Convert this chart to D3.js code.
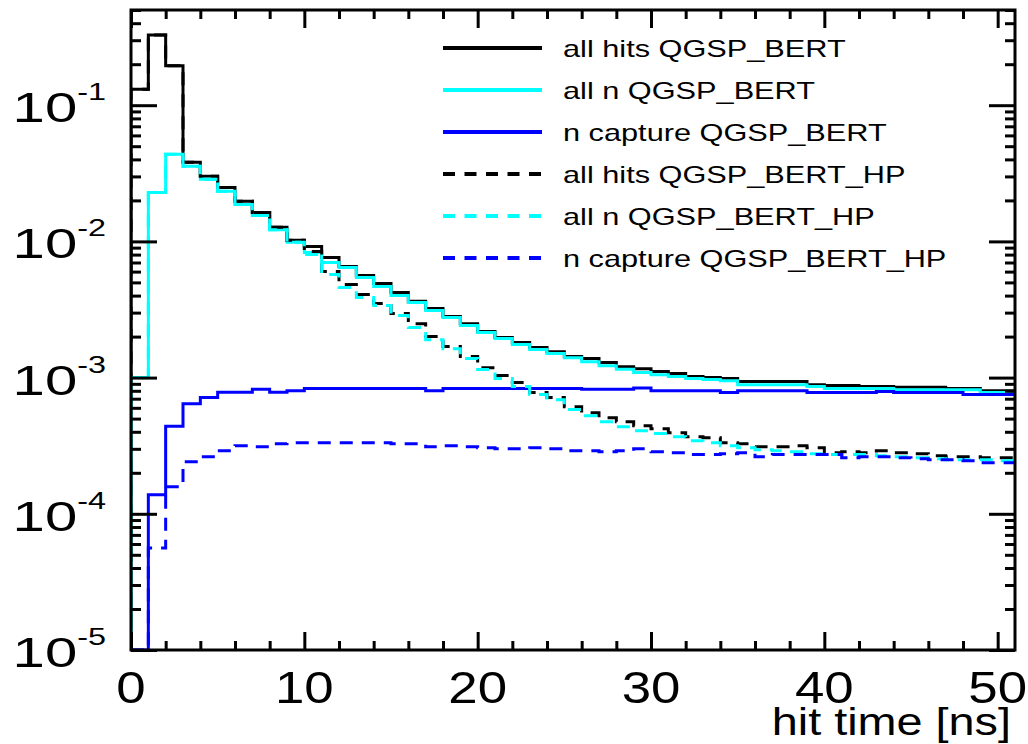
<!DOCTYPE html>
<html><head><meta charset="utf-8">
<script src="https://cdn.jsdelivr.net/npm/d3@7"></script>
<style>
html,body{margin:0;padding:0;background:#fff;}
svg{display:block;font-family:"Liberation Sans",Arial,Helvetica,sans-serif;}
</style></head><body>
<svg id="chart" width="1028" height="744"></svg>
<script>
// ---- data (1 ns bins from 0 to 51 ns) ----
const xDomain = [0, 51];
const yDomain = [1e-5, 0.5];
const xTickLabels = [0, 10, 20, 30, 40, 50];
const yTickExponents = [-1, -2, -3, -4, -5];
const xTitle = "hit time [ns]";
const seriesNames = ["all hits QGSP_BERT", "all n QGSP_BERT", "n capture QGSP_BERT",
  "all hits QGSP_BERT_HP", "all n QGSP_BERT_HP", "n capture QGSP_BERT_HP"];
const seriesColors = ["#000000", "#00ffff", "#0000ff", "#000000", "#00ffff", "#0000ff"];
const seriesDashed = [false, false, false, true, true, true];

const allHits_BERT = [0.131, 0.327, 0.195, 0.0381, 0.0301, 0.0249, 0.0197, 0.0163, 0.0127, 0.0102,
  9.19e-3, 7.63e-3, 6.55e-3, 5.62e-3, 4.91e-3, 4.22e-3, 3.64e-3, 3.21e-3, 2.81e-3, 2.49e-3,
  2.18e-3, 1.97e-3, 1.81e-3, 1.66e-3, 1.55e-3, 1.43e-3, 1.38e-3, 1.29e-3, 1.20e-3, 1.16e-3,
  1.11e-3, 1.07e-3, 1.02e-3, 1.00e-3, 9.84e-4, 9.35e-4, 9.35e-4, 9.35e-4, 9.35e-4, 8.88e-4,
  8.74e-4, 8.74e-4, 8.59e-4, 8.59e-4, 8.5e-4, 8.5e-4, 8.5e-4, 8.3e-4, 8.3e-4, 8.0e-4, 8.0e-4];
const allN_BERT = [1.0e-3, 0.0229, 0.0436, 0.0356, 0.0286, 0.0233, 0.0187, 0.0155, 0.0122, 9.84e-3,
  8.30e-3, 7.01e-3, 6.44e-3, 5.43e-3, 4.67e-3, 4.01e-3, 3.56e-3, 3.11e-3, 2.76e-3, 2.41e-3,
  2.14e-3, 1.94e-3, 1.75e-3, 1.61e-3, 1.50e-3, 1.40e-3, 1.31e-3, 1.22e-3, 1.15e-3, 1.09e-3,
  1.05e-3, 1.02e-3, 9.84e-4, 9.67e-4, 9.5e-4, 8.88e-4, 8.88e-4, 8.88e-4, 8.88e-4, 8.59e-4,
  8.3e-4, 8.3e-4, 8.3e-4, 8.3e-4, 8.16e-4, 8.16e-4, 8.16e-4, 8.16e-4, 8.16e-4, 7.76e-4, 7.76e-4];
const nCapture_BERT = [0, 1.38e-4, 4.39e-4, 6.44e-4, 7.13e-4, 7.8e-4, 7.8e-4, 8.2e-4, 7.8e-4, 8.0e-4,
  8.3e-4, 8.3e-4, 8.3e-4, 8.3e-4, 8.3e-4, 8.3e-4, 8.3e-4, 8.0e-4, 8.3e-4, 8.3e-4,
  8.3e-4, 8.3e-4, 8.3e-4, 8.3e-4, 8.3e-4, 8.3e-4, 8.2e-4, 8.2e-4, 8.2e-4, 8.4e-4,
  8.0e-4, 8.0e-4, 8.0e-4, 8.0e-4, 7.76e-4, 8.0e-4, 8.0e-4, 8.0e-4, 8.0e-4, 7.76e-4,
  7.76e-4, 7.76e-4, 7.76e-4, 7.9e-4, 7.76e-4, 7.76e-4, 7.76e-4, 7.76e-4, 7.5e-4, 7.5e-4, 7.5e-4];
const allHits_HP = [0.131, 0.327, 0.195, 0.0381, 0.0301, 0.0249, 0.0197, 0.0163, 0.0127, 0.0102,
  8.44e-3, 6.02e-3, 4.83e-3, 4.08e-3, 3.50e-3, 2.96e-3, 2.49e-3, 2.00e-3, 1.69e-3, 1.43e-3,
  1.18e-3, 1.034e-3, 9.19e-4, 7.76e-4, 7.13e-4, 6.12e-4, 5.53e-4, 5.08e-4, 4.75e-4, 4.44e-4,
  4.22e-4, 3.94e-4, 3.68e-4, 3.62e-4, 3.33e-4, 3.27e-4, 3.11e-4, 3.11e-4, 3.16e-4, 3.06e-4,
  2.81e-4, 2.86e-4, 2.81e-4, 2.90e-4, 2.81e-4, 2.76e-4, 2.67e-4, 2.62e-4, 2.62e-4, 2.58e-4, 2.58e-4];
const allN_HP = [1.0e-3, 0.0229, 0.0436, 0.0356, 0.0286, 0.0233, 0.0187, 0.0155, 0.0122, 9.84e-3,
  8.02e-3, 5.72e-3, 4.59e-3, 3.88e-3, 3.38e-3, 2.86e-3, 2.33e-3, 1.90e-3, 1.63e-3, 1.38e-3,
  1.145e-3, 9.83e-4, 8.59e-4, 7.50e-4, 6.89e-4, 5.82e-4, 5.25e-4, 4.75e-4, 4.36e-4, 4.08e-4,
  3.88e-4, 3.68e-4, 3.44e-4, 3.33e-4, 3.16e-4, 3.06e-4, 2.95e-4, 2.90e-4, 2.86e-4, 2.76e-4,
  2.72e-4, 2.72e-4, 2.72e-4, 2.67e-4, 2.62e-4, 2.58e-4, 2.54e-4, 2.49e-4, 2.49e-4, 2.49e-4, 2.45e-4];
const nCapture_HP = [0, 5.6e-5, 1.58e-4, 2.41e-4, 2.62e-4, 2.90e-4, 3.16e-4, 3.11e-4, 3.27e-4, 3.33e-4,
  3.33e-4, 3.33e-4, 3.33e-4, 3.33e-4, 3.33e-4, 3.27e-4, 3.27e-4, 3.11e-4, 3.16e-4, 3.11e-4,
  3.06e-4, 3.00e-4, 3.00e-4, 3.06e-4, 3.00e-4, 2.90e-4, 2.90e-4, 2.86e-4, 2.90e-4, 3.00e-4,
  2.86e-4, 2.81e-4, 2.72e-4, 2.72e-4, 2.76e-4, 2.81e-4, 2.62e-4, 2.72e-4, 2.72e-4, 2.72e-4,
  2.72e-4, 2.58e-4, 2.62e-4, 2.62e-4, 2.58e-4, 2.54e-4, 2.49e-4, 2.49e-4, 2.45e-4, 2.37e-4, 2.37e-4];

const seriesValues = [allHits_BERT, allN_BERT, nCapture_BERT, allHits_HP, allN_HP, nCapture_HP];

// ---- layout ----
const L = 131, R = 1015, T = 10, B = 650;
const svg = d3.select("#chart");
const x = d3.scaleLinear().domain(xDomain).range([L, R]);
const y = d3.scaleLog().domain(yDomain).range([B, T]);

svg.append("defs").append("clipPath").attr("id", "clip")
  .append("rect").attr("x", L).attr("y", T).attr("width", R - L).attr("height", B - T);

// ---- histograms ----
const line = d3.line().x(d => x(d[0])).y(d => y(Math.max(yDomain[0], Math.min(yDomain[1], d[1]))))
  .curve(d3.curveStepAfter);
const gH = svg.append("g").attr("clip-path", "url(#clip)");
seriesValues.forEach((vals, s) => {
  const pts = [[0, yDomain[0]]];
  vals.forEach((v, i) => pts.push([i, v]));
  pts.push([vals.length, vals[vals.length - 1]]);
  gH.append("path").attr("d", line(pts)).attr("fill", "none")
    .attr("stroke", seriesColors[s]).attr("stroke-width", 3)
    .attr("stroke-dasharray", seriesDashed[s] ? "13,9" : null);
});

// ---- axes (ticks inward, ROOT style) ----
const xMajor = xTickLabels;
const xMinor = d3.range(0, 51, 2).filter(v => v % 10 !== 0);
const yMajor = yTickExponents.map(e => Math.pow(10, e));
const yMinor = [];
for (let e = -5; e <= -1; e++) for (let k = 2; k <= 9; k++) { const v = k * Math.pow(10, e); if (v <= yDomain[1]) yMinor.push(v); }

function styleAxis(g) {
  g.select(".domain").remove();
  g.selectAll("line").attr("stroke", "#000").attr("stroke-width", 3);
  g.selectAll("text").remove();
}
svg.append("g").attr("transform", `translate(0,${B})`).call(d3.axisBottom(x).tickValues(xMajor).tickSize(-18).tickSizeOuter(0)).call(styleAxis);
svg.append("g").attr("transform", `translate(0,${B})`).call(d3.axisBottom(x).tickValues(xMinor).tickSize(-9).tickSizeOuter(0)).call(styleAxis);
svg.append("g").attr("transform", `translate(0,${T})`).call(d3.axisTop(x).tickValues(xMajor).tickSize(-18).tickSizeOuter(0)).call(styleAxis);
svg.append("g").attr("transform", `translate(0,${T})`).call(d3.axisTop(x).tickValues(xMinor).tickSize(-9).tickSizeOuter(0)).call(styleAxis);
svg.append("g").attr("transform", `translate(${L},0)`).call(d3.axisLeft(y).tickValues(yMajor).tickSize(-26).tickSizeOuter(0)).call(styleAxis);
svg.append("g").attr("transform", `translate(${L},0)`).call(d3.axisLeft(y).tickValues(yMinor).tickSize(-10).tickSizeOuter(0)).call(styleAxis);
svg.append("g").attr("transform", `translate(${R},0)`).call(d3.axisRight(y).tickValues(yMajor).tickSize(-26).tickSizeOuter(0)).call(styleAxis);
svg.append("g").attr("transform", `translate(${R},0)`).call(d3.axisRight(y).tickValues(yMinor).tickSize(-10).tickSizeOuter(0)).call(styleAxis);

// frame
svg.append("rect").attr("x", L).attr("y", T).attr("width", R - L).attr("height", B - T)
  .attr("fill", "none").attr("stroke", "#000").attr("stroke-width", 3);

// ---- tick labels ----
xTickLabels.forEach(v => {
  svg.append("text").attr("transform", `translate(${x(v)},703) scale(1.2,1)`)
    .attr("text-anchor", "middle").attr("font-size", 44).attr("fill", "#000").text(v);
});
yTickExponents.forEach(e => {
  const t = svg.append("text").attr("transform", `translate(106,${y(Math.pow(10, e))}) scale(1.35,1)`)
    .attr("text-anchor", "end").attr("fill", "#000");
  t.append("tspan").attr("font-size", 43).attr("dy", 17).text("10");
  t.append("tspan").attr("font-size", 24).attr("dy", -22).text(String(e));
});
svg.append("text").attr("transform", `translate(1011,735) scale(1.2,1)`)
  .attr("text-anchor", "end").attr("font-size", 39).attr("fill", "#000").text(xTitle);

// ---- legend ----
const legY0 = 48, legDy = 42;
seriesNames.forEach((name, i) => {
  const yy = legY0 + i * legDy;
  svg.append("line").attr("x1", 443).attr("x2", 542).attr("y1", yy).attr("y2", yy)
    .attr("stroke", seriesColors[i]).attr("stroke-width", 4)
    .attr("stroke-dasharray", seriesDashed[i] ? "12,9.5" : null);
  svg.append("text").attr("transform", `translate(563,${yy + 8.5}) scale(1.28,1)`)
    .attr("font-size", 24).attr("fill", "#000").text(name);
});
</script>
</body></html>
